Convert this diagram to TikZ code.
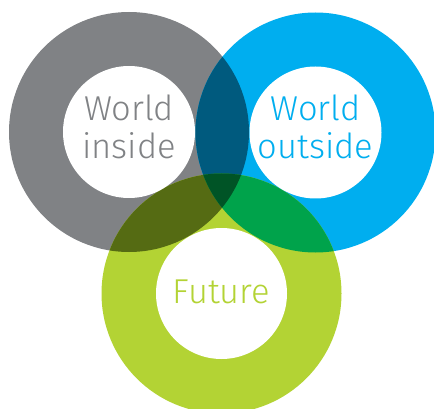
\documentclass[tikz,border=0pt]{standalone}
\usepackage{fontspec}
\newfontfamily\ringfont{Fira Sans Light}
\definecolor{ringgray}{HTML}{808285}
\definecolor{ringblue}{HTML}{00AEEF}
\definecolor{ringgreen}{HTML}{B3D334}
\definecolor{graublue}{HTML}{005A7E}
\definecolor{graugreen}{HTML}{556B13}
\definecolor{bluegreen}{HTML}{00A34B}
\definecolor{allthree}{HTML}{005426}
\tikzset{
  ringlabel/.style={font=\ringfont\fontsize{34.5}{38}\selectfont, align=center, inner sep=0pt},
}
\begin{document}
\begin{tikzpicture}[x=1pt,y=-1pt]
\useasboundingbox (0,0) rectangle (434,409);
\coordinate (G) at (129,132);
\coordinate (B) at (315.5,132.5);
\coordinate (F) at (221.5,293.5);
% outer discs
\fill[ringgray]  (G) circle (120pt);
\fill[ringblue]  (B) circle (120pt);
\fill[ringgreen] (F) circle (120pt);
% pairwise overlaps
\begin{scope}
  \clip (G) circle (120pt);
  \fill[graublue] (B) circle (120pt);
  \fill[graugreen] (F) circle (120pt);
\end{scope}
\begin{scope}
  \clip (B) circle (120pt);
  \fill[bluegreen] (F) circle (120pt);
\end{scope}
% triple overlap
\begin{scope}
  \clip (G) circle (120pt);
  \clip (B) circle (120pt);
  \fill[allthree] (F) circle (120pt);
\end{scope}
% white centres
\fill[white] (G) circle (66pt);
\fill[white] (B) circle (66pt);
\fill[white] (F) circle (65.5pt);
% labels
\node[ringlabel, text=ringgray]  (lg) at (129,126.5) {World\\inside};
\node[ringlabel, text=ringblue]  (lb) at (315.5,126.5) {World\\outside};
\node[ringlabel, text=ringgreen] (lf) at (221.5,291.5) {Future};
\end{tikzpicture}
\end{document}
